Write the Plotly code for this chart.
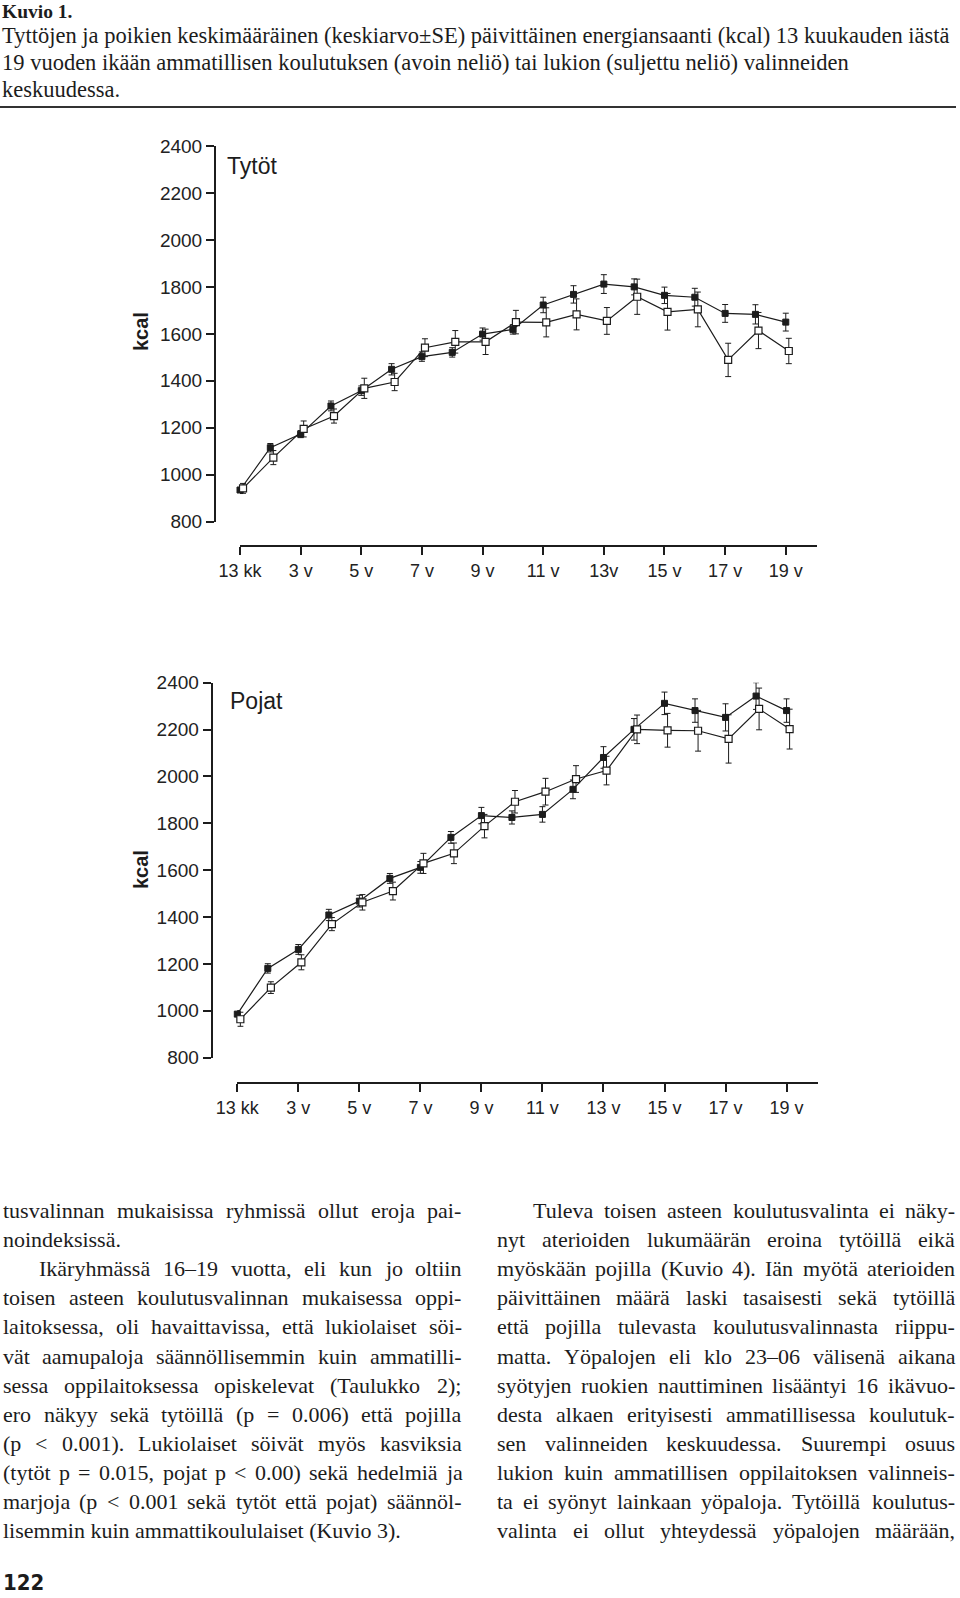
import plotly.graph_objects as go

# ---------------- data ----------------
age_pos = list(range(1, 20))  # 13 kk, 2 v, 3 v, ..., 19 v
tick_vals = [1, 3, 5, 7, 9, 11, 13, 15, 17, 19]
tick_text_girls = ["13 kk", "3 v", "5 v", "7 v", "9 v", "11 v", "13v", "15 v", "17 v", "19 v"]
tick_text_boys = ["13 kk", "3 v", "5 v", "7 v", "9 v", "11 v", "13 v", "15 v", "17 v", "19 v"]
y_ticks = [800, 1000, 1200, 1400, 1600, 1800, 2000, 2200, 2400]

# Tytöt (girls): lukio = filled square, ammatillinen = open square
girls_lukio = [935, 1115, 1173, 1293, 1358, 1449, 1503, 1521, 1599, 1619, 1723, 1768, 1812, 1800, 1764, 1756, 1687, 1683, 1650]
girls_lukio_se = [15, 18, 15, 21, 20, 24, 20, 20, 26, 20, 33, 37, 40, 34, 35, 38, 38, 41, 38]
girls_amm = [942, 1073, 1195, 1250, 1368, 1395, 1541, 1566, 1566, 1650, 1649, 1683, 1655, 1758, 1694, 1704, 1489, 1614, 1527]
girls_amm_se = [21, 30, 34, 30, 43, 37, 38, 48, 54, 50, 62, 66, 57, 75, 78, 74, 71, 77, 54]

# Pojat (boys)
boys_lukio = [986, 1181, 1262, 1409, 1468, 1565, 1612, 1740, 1833, 1825, 1838, 1945, 2081, 2201, 2312, 2281, 2252, 2343, 2281]
boys_lukio_se = [15, 20, 21, 24, 25, 21, 25, 25, 35, 28, 33, 40, 46, 46, 48, 50, 58, 57, 50]
boys_amm = [964, 1099, 1207, 1370, 1463, 1511, 1629, 1672, 1788, 1892, 1935, 1989, 2025, 2201, 2197, 2195, 2160, 2288, 2202]
boys_amm_se = [30, 25, 32, 28, 33, 38, 43, 44, 50, 48, 57, 57, 61, 61, 72, 87, 103, 89, 85]

caption_title = "Kuvio 1."
caption_lines = [
    "Tyttöjen ja poikien keskimääräinen (keskiarvo±SE) päivittäinen energiansaanti (kcal) 13 kuukauden iästä",
    "19 vuoden ikään ammatillisen koulutuksen (avoin neliö) tai lukion (suljettu neliö) valinneiden",
    "keskuudessa.",
]
left_col = [
    "tusvalinnan mukaisissa ryhmissä ollut eroja pai-",
    "noindeksissä.",
    "Ikäryhmässä 16–19 vuotta, eli kun jo oltiin",
    "toisen asteen koulutusvalinnan mukaisessa oppi-",
    "laitoksessa, oli havaittavissa, että lukiolaiset söi-",
    "vät aamupaloja säännöllisemmin kuin ammatilli-",
    "sessa oppilaitoksessa opiskelevat (Taulukko 2);",
    "ero näkyy sekä tytöillä (p = 0.006) että pojilla",
    "(p < 0.001). Lukiolaiset söivät myös kasviksia",
    "(tytöt p = 0.015, pojat p < 0.00) sekä hedelmiä ja",
    "marjoja (p < 0.001 sekä tytöt että pojat) säännöl-",
    "lisemmin kuin ammattikoululaiset (Kuvio 3).",
]
left_indent = [0, 0, 1, 0, 0, 0, 0, 0, 0, 0, 0, 0]
left_justify = [1, 0, 1, 1, 1, 1, 1, 1, 1, 1, 1, 0]
right_col = [
    "Tuleva toisen asteen koulutusvalinta ei näky-",
    "nyt aterioiden lukumäärän eroina tytöillä eikä",
    "myöskään pojilla (Kuvio 4). Iän myötä aterioiden",
    "päivittäinen määrä laski tasaisesti sekä tytöillä",
    "että pojilla tulevasta koulutusvalinnasta riippu-",
    "matta. Yöpalojen eli klo 23–06 välisenä aikana",
    "syötyjen ruokien nauttiminen lisääntyi 16 ikävuo-",
    "desta alkaen erityisesti ammatillisessa koulutuk-",
    "sen valinneiden keskuudessa. Suurempi osuus",
    "lukion kuin ammatillisen oppilaitoksen valinneis-",
    "ta ei syönyt lainkaan yöpaloja. Tytöillä koulutus-",
    "valinta ei ollut yhteydessä yöpalojen määrään,",
]
right_indent = [1] + [0] * 11
right_justify = [1] * 12
page_number = "122"

# ---------------- layout helpers ----------------
W, H = 960, 1598
def fx(p):
    return p / W
def fy(p):
    return 1 - p / H

INK = "#1c1c1c"
SANS = "Liberation Sans, Arial, sans-serif"
SERIF = "Liberation Serif, Times New Roman, serif"
DODGE = 0.1

# Times-compatible advance widths (per 1000 em) used to justify the body text
_W = {' ': 250, '!': 333, '(': 333, ')': 333, ',': 250, '-': 333, '.': 250, '/': 278, ':': 278,
      ';': 278, '<': 564, '=': 564, '>': 564, '?': 444, '±': 564, '–': 500,
      'A': 722, 'B': 667, 'C': 667, 'D': 722, 'E': 611, 'F': 556, 'G': 722, 'H': 722, 'I': 333,
      'J': 389, 'K': 722, 'L': 611, 'M': 889, 'N': 722, 'O': 722, 'P': 556, 'Q': 722, 'R': 667,
      'S': 556, 'T': 611, 'U': 722, 'V': 722, 'W': 944, 'X': 722, 'Y': 722, 'Z': 611,
      'a': 444, 'b': 500, 'c': 444, 'd': 500, 'e': 444, 'f': 333, 'g': 500, 'h': 500, 'i': 278,
      'j': 278, 'k': 500, 'l': 278, 'm': 778, 'n': 500, 'o': 500, 'p': 500, 'q': 500, 'r': 333,
      's': 389, 't': 278, 'u': 500, 'v': 500, 'w': 722, 'x': 500, 'y': 500, 'z': 444,
      'ä': 444, 'ö': 500, 'å': 444, 'Ä': 722, 'Ö': 722}
def text_w(s, size):
    return sum(_W.get(c, 500) for c in s) * size / 1000.0

def esc(s):
    return s.replace("<", "&lt;").replace(">", "&gt;")

fig = go.Figure()

def add_panel(xa, ya, lukio, lukio_se, amm, amm_se):
    fig.add_trace(go.Scatter(
        x=age_pos, y=lukio, mode="lines+markers", xaxis=xa, yaxis=ya,
        line=dict(color=INK, width=1.2),
        marker=dict(symbol="square", size=6, color=INK, line=dict(color=INK, width=1)),
        error_y=dict(type="data", array=lukio_se, visible=True, color=INK, thickness=1, width=3),
        cliponaxis=False, showlegend=False, name="lukio"))
    fig.add_trace(go.Scatter(
        x=[a + DODGE for a in age_pos], y=amm, mode="lines+markers", xaxis=xa, yaxis=ya,
        line=dict(color=INK, width=1.2),
        marker=dict(symbol="square", size=7, color="white", line=dict(color=INK, width=1.2)),
        error_y=dict(type="data", array=amm_se, visible=True, color=INK, thickness=1, width=3),
        cliponaxis=False, showlegend=False, name="ammatillinen"))

add_panel("x", "y", girls_lukio, girls_lukio_se, girls_amm, girls_amm_se)
add_panel("x2", "y2", boys_lukio, boys_lukio_se, boys_amm, boys_amm_se)

axis_common = dict(showline=True, linecolor=INK, linewidth=2, ticks="outside", ticklen=8,
                   tickwidth=2, tickcolor=INK, showgrid=False, zeroline=False, automargin=False)
xfont = dict(family=SANS, size=18, color="#222")
yfont = dict(family=SANS, size=19, color="#222")

fig.update_layout(
    width=W, height=H, margin=dict(l=0, r=0, t=0, b=0, autoexpand=False),
    paper_bgcolor="white", plot_bgcolor="rgba(0,0,0,0)",
    xaxis=dict(domain=[fx(240), fx(817)], range=[1, 20.03], anchor="free", position=fy(546),
               tickvals=tick_vals, ticktext=tick_text_girls, tickfont=xfont, **axis_common),
    yaxis=dict(domain=[fy(521.7), fy(146)], range=[800, 2400], anchor="free", position=fx(215),
               tickvals=y_ticks, tickfont=yfont, **axis_common),
    xaxis2=dict(domain=[fx(237.3), fx(818.3)], range=[1, 20.04], anchor="free", position=fy(1083.3),
                tickvals=tick_vals, ticktext=tick_text_boys, tickfont=xfont, **axis_common),
    yaxis2=dict(domain=[fy(1057.7), fy(682.7)], range=[800, 2400], anchor="free", position=fx(211.7),
                tickvals=y_ticks, tickfont=yfont, **axis_common),
)

ann = []

def text_ann(text, x, y, size, family, xanchor="left", angle=0):
    return dict(text=text, x=fx(x), y=fy(y), xref="paper", yref="paper", xanchor=xanchor,
                yanchor="middle", showarrow=False, textangle=angle, borderpad=0, borderwidth=0,
                font=dict(family=family, size=size, color=INK))

# panel labels
ann.append(text_ann("Tytöt", 227, 166, 23, SANS))
ann.append(text_ann("Pojat", 230, 701, 23, SANS))
for yc in (332, 870):
    ann.append(text_ann("<b>kcal</b>", 141, yc, 20, SANS, xanchor="center", angle=-90))

# caption
ann.append(text_ann("<b>" + caption_title + "</b>", 2, 11.5, 19.5, SERIF))
for i, line in enumerate(caption_lines):
    ann.append(text_ann(esc(line), 2, 35 + 27.2 * i, 22.5, SERIF))

# body columns (justified like the printed page)
BODY = 22
for col, indents, justs, x0, x1 in ((left_col, left_indent, left_justify, 3, 461.5),
                                    (right_col, right_indent, right_justify, 497, 955)):
    for i, line in enumerate(col):
        yc = 1210.5 + 29.1 * i
        start = x0 + 36 * indents[i]
        words = line.split(" ")
        if justs[i] and len(words) > 1:
            ws = [text_w(w, BODY) for w in words]
            gap = max((x1 - start - sum(ws)) / (len(words) - 1), 3.0)
            xpos = start
            for w, wd in zip(words, ws):
                ann.append(text_ann(esc(w), xpos, yc, BODY, SERIF))
                xpos += wd + gap
        else:
            ann.append(text_ann(esc(line), start, yc, BODY, SERIF))

ann.append(text_ann("<b>" + page_number + "</b>", 3, 1582, 22,
                    "DejaVu Sans Condensed, Liberation Sans Narrow, sans-serif"))

fig.update_layout(annotations=ann)

# rule under the caption
fig.add_shape(type="line", xref="paper", yref="paper", x0=0, x1=fx(956), y0=fy(107), y1=fy(107),
              line=dict(color="#333", width=2))

fig.write_html("out.html")
